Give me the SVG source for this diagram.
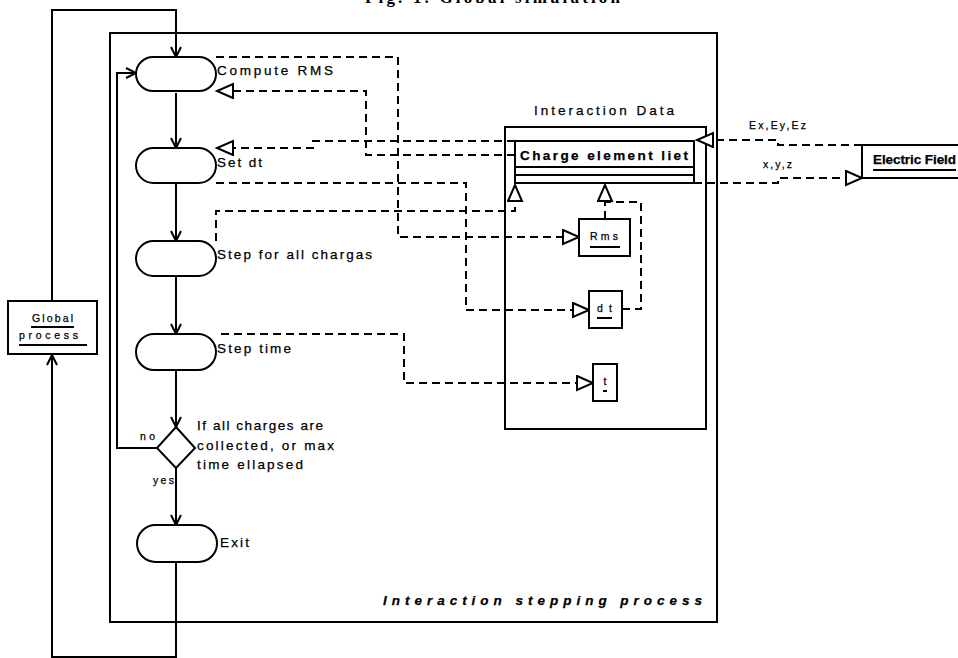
<svg xmlns="http://www.w3.org/2000/svg" width="958" height="658" viewBox="0 0 958 658">
<style>
.ln{fill:none;stroke:#000;stroke-width:2}
.dash{fill:none;stroke:#000;stroke-width:2;stroke-dasharray:8 5}
.box{fill:#fff;stroke:#000;stroke-width:2}
.pill{fill:#fff;stroke:#000;stroke-width:2}
.t{font-family:"Liberation Sans",Arial,sans-serif;font-size:13.5px;fill:#000;stroke:#000;stroke-width:0.25}
.s{font-size:10.5px}
.b{font-weight:bold}
</style>
<defs>
<marker id="arr" markerUnits="userSpaceOnUse" viewBox="0 0 14 14" markerWidth="14" markerHeight="14" refX="11" refY="6" orient="auto">
<path d="M1,1 L11,6 L1,11" fill="none" stroke="#000" stroke-width="2" stroke-dasharray="none"/>
</marker>
<marker id="tri" markerUnits="userSpaceOnUse" viewBox="0 0 20 18" markerWidth="20" markerHeight="18" refX="17" refY="8" orient="auto">
<path d="M1,1 L17,8 L1,15 z" fill="#fff" stroke="#000" stroke-width="2" stroke-dasharray="none"/>
</marker>
</defs>
<rect width="958" height="658" fill="#fff"/>

<text x="365" y="3" font-family="'Liberation Serif',serif" font-weight="bold" font-size="17" textLength="255" lengthAdjust="spacing">Fig. 1. Global simulation</text>

<g id="frame-stepping">
<rect x="110" y="33" width="607" height="589" class="ln"/>
<text x="383" y="605" class="t b" font-style="italic" font-size="15" textLength="319" lengthAdjust="spacing">Interaction stepping process</text>
</g>

<g id="frame-data">
<rect x="505" y="127" width="201" height="302" class="ln"/>
<text x="534" y="115" class="t" font-size="14" textLength="140" lengthAdjust="spacing">Interaction Data</text>
</g>

<g id="connectors">
<path class="ln" d="M52,301 V10 H176 V57" marker-end="url(#arr)"/>
<path class="ln" d="M176,562 V657 H52 V355" marker-end="url(#arr)"/>
<path class="ln" d="M176,93 V148" marker-end="url(#arr)"/>
<path class="ln" d="M176,183 V241" marker-end="url(#arr)"/>
<path class="ln" d="M176,276 V334" marker-end="url(#arr)"/>
<path class="ln" d="M176,370 V427" marker-end="url(#arr)"/>
<path class="ln" d="M176,468 V525" marker-end="url(#arr)"/>
<path class="ln" d="M157,448 H117 V73 H136" marker-end="url(#arr)"/>
<path class="dash" d="M216,57 H398 V237 H579" marker-end="url(#tri)"/>
<path class="dash" d="M515,155 H366 V91 H217" marker-end="url(#tri)"/>
<path class="dash" d="M515,141 H313 V148 H217" marker-end="url(#tri)"/>
<path class="dash" d="M216,183 H466 V310 H589" marker-end="url(#tri)"/>
<path class="dash" d="M216,241 V211 H515 V185" marker-end="url(#tri)"/>
<path class="dash" d="M221,334 H404 V383 H593" marker-end="url(#tri)"/>
<path class="dash" d="M605,219 V185" marker-end="url(#tri)"/>
<path class="dash" d="M622,309 H641 V202 H605"/>
<path class="dash" d="M862,145 H778 V140 H697" marker-end="url(#tri)"/>
<path class="dash" d="M694,183 H778 V178 H862" marker-end="url(#tri)"/>
<text x="749" y="129" class="t s" textLength="57" lengthAdjust="spacing">Ex,Ey,Ez</text>
<text x="763" y="168" class="t s" textLength="29" lengthAdjust="spacing">x,y,z</text>
<text x="140" y="440" class="t s" textLength="15" lengthAdjust="spacing">no</text>
<text x="153" y="484" class="t s" textLength="21" lengthAdjust="spacing">yes</text>
</g>

<g id="global-process">
<rect x="8" y="301" width="89" height="53" class="box" stroke-width="3"/>
<text x="32" y="322" class="t s" textLength="41" lengthAdjust="spacing">Global</text>
<line x1="31" y1="327" x2="74" y2="327" class="ln" stroke-width="1.5"/>
<text x="19" y="339" class="t s" textLength="59" lengthAdjust="spacing">process</text>
<line x1="19" y1="345" x2="87" y2="345" class="ln" stroke-width="1.5"/>
</g>

<g id="compute-rms">
<rect x="136" y="57" width="80" height="34" rx="17" class="pill"/>
<text x="217" y="75" class="t" textLength="116" lengthAdjust="spacing">Compute RMS</text>
</g>
<g id="set-dt">
<rect x="136" y="148" width="80" height="35" rx="17.5" class="pill"/>
<text x="217" y="167" class="t" textLength="45" lengthAdjust="spacing">Set dt</text>
</g>
<g id="step-charges">
<rect x="136" y="241" width="80" height="35" rx="17.5" class="pill"/>
<text x="217" y="259" class="t" textLength="155" lengthAdjust="spacing">Step for all chargas</text>
</g>
<g id="step-time">
<rect x="136" y="334" width="80" height="36" rx="18" class="pill"/>
<text x="217" y="353" class="t" textLength="74" lengthAdjust="spacing">Step time</text>
</g>
<g id="decision">
<polygon points="176,427 195,448 176,468 157,448" class="box"/>
<text x="197" y="430" class="t" font-size="13" textLength="126" lengthAdjust="spacing">If all charges are</text>
<text x="197" y="450" class="t" font-size="13" textLength="137" lengthAdjust="spacing">collected, or max</text>
<text x="197" y="469" class="t" font-size="13" textLength="106" lengthAdjust="spacing">time ellapsed</text>
</g>
<g id="exit">
<rect x="137" y="525" width="80" height="37" rx="18.5" class="pill"/>
<text x="220" y="547" class="t" textLength="29" lengthAdjust="spacing">Exit</text>
</g>

<g id="charge-element-list">
<rect x="515" y="141" width="179" height="42" class="box"/>
<line x1="515" y1="167" x2="694" y2="167" class="ln"/>
<line x1="515" y1="175" x2="694" y2="175" class="ln"/>
<text x="520" y="160" class="t b" font-size="14" textLength="168" lengthAdjust="spacing">Charge element liet</text>
</g>

<g id="rms">
<rect x="579" y="219" width="51" height="37" class="box"/>
<text x="590" y="240" class="t s" textLength="28" lengthAdjust="spacing">Rms</text>
<line x1="590" y1="247" x2="620" y2="247" class="ln" stroke-width="1.5"/>
</g>
<g id="dt">
<rect x="589" y="291" width="33" height="37" class="box"/>
<text x="597" y="312" class="t s" textLength="15" lengthAdjust="spacing">dt</text>
<line x1="597" y1="318" x2="612" y2="318" class="ln" stroke-width="1.5"/>
</g>
<g id="t">
<rect x="593" y="364" width="24" height="37" class="box"/>
<text x="605" y="385" class="t s" text-anchor="middle">t</text>
<line x1="603" y1="391" x2="607" y2="391" class="ln" stroke-width="1.5"/>
</g>

<g id="electric-field">
<rect x="862" y="145" width="110" height="33" class="box"/>
<text x="873" y="164" class="t b" font-size="11.5" textLength="83" lengthAdjust="spacing">Electric Field</text>
<line x1="873" y1="170" x2="956" y2="170" class="ln" stroke-width="1.5"/>
</g>
</svg>
